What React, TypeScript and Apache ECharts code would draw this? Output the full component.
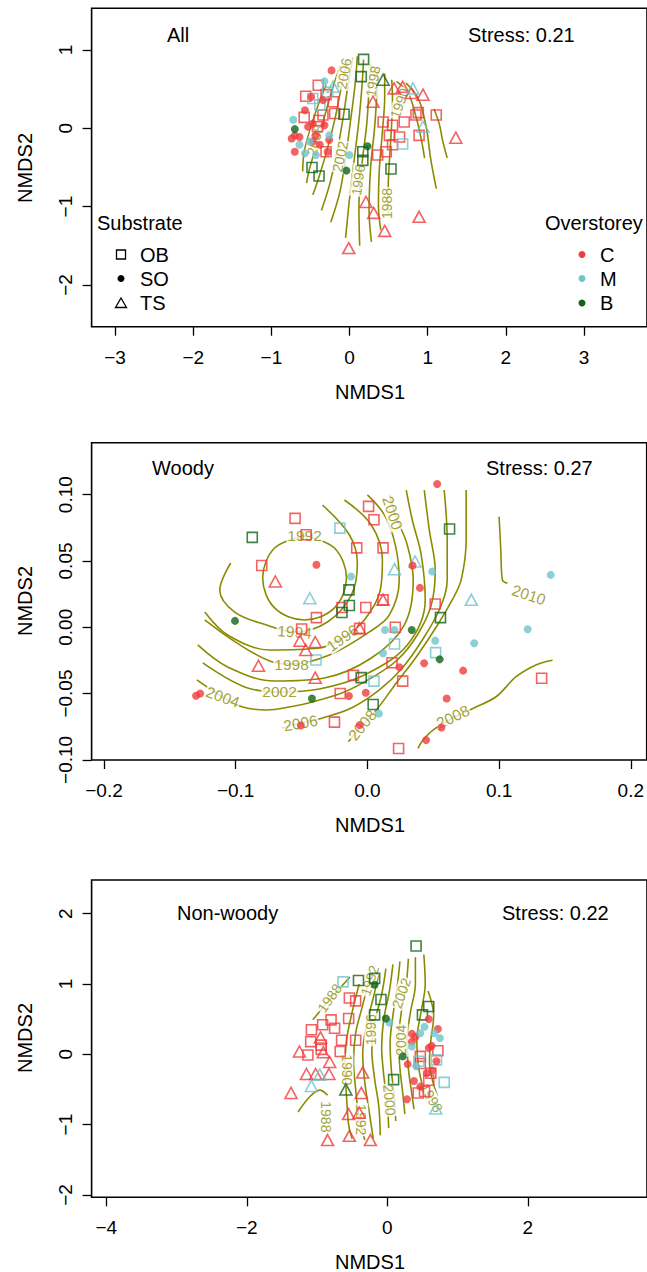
import React, { useEffect, useRef } from "react";
import * as echarts from "echarts";

const RED = "#F03C3C";
const CYAN = "#6FC3CA";
const GREEN = "#10641A";
const OLIVE = "#8B8B00";
const FONT = "'Liberation Sans', Arial, Helvetica, sans-serif";

// ---------------- Panel 1: All ----------------
const allXTicks = [-3, -2, -1, 0, 1, 2, 3];
const allYTicks = [-2, -1, 0, 1];
const allSquaresC = [[-0.56,0.41],[-0.40,0.55],[-0.30,0.43],[-0.21,0.34],[-0.58,0.14],[-0.19,0.19],[-0.34,0.17],[-0.39,0.10],[0.43,0.08],[0.55,0.04],[0.70,0.08],[0.85,0.17],[0.88,0.20],[1.11,0.17],[0.51,-0.09],[0.64,-0.11],[0.89,-0.09],[0.36,-0.34],[0.47,-0.30],[0.55,-0.21],[-0.30,-0.30],[-0.41,0.02]];
const allSquaresM = [[-0.38,0.30],[0.68,-0.20],[-0.28,0.46],[-0.47,0.38]];
const allSquaresB = [[0.18,0.88],[0.15,0.66],[-0.07,0.18],[-0.48,-0.50],[-0.39,-0.61],[0.17,-0.30],[0.17,-0.41],[0.53,-0.52]];
const allTrianglesC = [[-0.01,-1.53],[0.21,-0.94],[0.31,-1.08],[0.45,-1.31],[0.89,-1.13],[1.36,-0.12],[0.30,0.34],[0.57,0.51],[0.68,0.53],[0.79,0.45],[0.94,0.43]];
const allTrianglesM = [[-0.21,0.53],[0.81,0.51],[0.94,0.02]];
const allTrianglesB = [[0.43,0.62]];
const allDotsC = [[-0.23,0.74],[-0.57,0.23],[-0.70,-0.09],[-0.74,-0.13],[-0.70,-0.30],[-0.64,-0.11],[-0.53,0.02],[-0.47,0.06],[-0.43,-0.09],[-0.32,0.04],[-0.26,-0.15],[-0.28,-0.30],[-0.49,0.40],[-0.47,-0.17],[-0.34,0.36],[-0.38,-0.21]];
const allDotsM = [[-0.72,0.11],[-0.64,-0.21],[-0.57,-0.32],[-0.26,-0.09],[-0.43,-0.34],[0.0,-0.34],[-0.51,-0.17],[-0.32,0.60]];
const allDotsB = [[-0.70,-0.01],[0.23,-0.23],[-0.04,-0.54]];
const allContours = [
  [[-0.30,0.55],[-0.40,0.30],[-0.50,0.0],[-0.58,-0.30],[-0.60,-0.55]],
  [[-0.12,0.80],[-0.22,0.50],[-0.32,0.15],[-0.42,-0.20],[-0.52,-0.55],[-0.55,-0.70]],
  [[-0.02,0.88],[-0.10,0.55],[-0.18,0.15],[-0.28,-0.25],[-0.40,-0.65],[-0.47,-0.85]],
  [[0.04,0.90],[-0.02,0.55],[-0.08,0.15],[-0.15,-0.25],[-0.25,-0.70],[-0.36,-1.05]],
  [[0.10,0.92],[0.07,0.55],[0.02,0.15],[-0.04,-0.30],[-0.12,-0.80],[-0.24,-1.20]],
  [[0.18,0.88],[0.16,0.55],[0.12,0.10],[0.06,-0.40],[0.00,-0.90],[-0.05,-1.40]],
  [[0.27,0.82],[0.25,0.50],[0.22,0.05],[0.16,-0.45],[0.12,-1.00],[0.13,-1.50]],
  [[0.36,0.76],[0.35,0.45],[0.32,0.00],[0.27,-0.50],[0.25,-1.05],[0.28,-1.45]],
  [[0.45,0.70],[0.45,0.40],[0.42,-0.05],[0.38,-0.55],[0.37,-1.00],[0.40,-1.30]],
  [[0.54,0.62],[0.55,0.35],[0.53,-0.10],[0.50,-0.60],[0.49,-0.95],[0.50,-1.10]],
  [[0.60,0.60],[0.75,0.45],[0.85,0.15],[0.92,-0.15],[0.96,-0.38]],
  [[0.72,0.58],[0.88,0.38],[0.98,0.02],[1.04,-0.40],[1.11,-0.77]],
  [[1.08,0.25],[1.15,0.05],[1.19,-0.15],[1.25,-0.38]],
];
const allContourLabels = [
  { t: "2006", x: -0.07, y: 0.70, r: 80 },
  { t: "1998", x: 0.30, y: 0.60, r: 80 },
  { t: "1990", x: 0.64, y: 0.32, r: 70 },
  { t: "2008", x: -0.44, y: -0.15, r: 75 },
  { t: "2002", x: -0.12, y: -0.36, r: 78 },
  { t: "1996", x: 0.11, y: -0.66, r: 82 },
  { t: "1988", x: 0.48, y: -0.96, r: 90 },
];

// ---------------- Panel 2: Woody ----------------
const woodyXTicks = [-0.2, -0.1, 0, 0.1, 0.2];
const woodyYTicks = [-0.1, -0.05, 0, 0.05, 0.1];
const woodySquaresC = [[-0.0549,0.0821],[-0.0465,0.0698],[-0.0802,0.0466],[0.0009,0.0912],[0.005,0.0811],[-0.0081,0.0599],[0.0119,0.0599],[-0.0387,0.0073],[-0.0193,0.0149],[-0.0012,0.0149],[0.0119,0.0207],[0.0515,0.0176],[-0.0499,-0.0013],[-0.0059,-0.0008],[0.0212,0.0],[0.0187,-0.0267],[-0.0106,-0.0363],[0.0268,-0.0406],[-0.0206,-0.0499],[-0.025,-0.0715],[0.0237,-0.0914],[0.1323,-0.0385]];
const woodySquaresM = [[-0.0209,0.0748],[-0.039,-0.0247],[0.0206,-0.0126],[0.005,-0.0406],[0.0518,-0.0191]];
const woodySquaresB = [[-0.0874,0.0678],[0.0624,0.0741],[-0.014,0.0282],[-0.0137,0.0164],[-0.0193,0.0111],[0.0555,0.0073],[-0.0047,-0.038],[0.0044,-0.0582]];
const woodyTrianglesC = [[-0.0699,0.0345],[-0.0512,-0.0101],[-0.0396,-0.0111],[-0.0468,-0.0171],[-0.0827,-0.029],[-0.0396,-0.038],[0.0119,0.0207],[-0.0059,-0.0008]];
const woodyTrianglesM = [[-0.0437,0.0219],[0.0206,0.0438],[0.0362,0.0496],[0.0789,0.0207]];
const woodyDotsC = [[0.053,0.1081],[-0.0387,0.0471],[0.0399,0.0297],[0.0343,0.0466],[0.0431,-0.0272],[0.0243,-0.0302],[0.0727,-0.0327],[-0.0012,-0.0494],[-0.014,-0.0519],[0.0602,-0.0537],[-0.0059,-0.0738],[-0.0505,-0.0741],[0.0562,-0.0756],[0.0446,-0.0851],[-0.1301,-0.0516],[-0.127,-0.0499]];
const woodyDotsM = [[-0.0125,0.0383],[0.0493,0.042],[0.1392,0.0395],[0.0134,-0.002],[0.0206,-0.002],[0.0515,-0.0101],[0.0811,-0.0121],[0.0119,-0.0196],[0.1217,-0.0015],[0.0087,-0.065]];
const woodyDotsB = [[-0.1005,0.0048],[0.0337,-0.002],[0.0549,-0.0242],[-0.0421,-0.0537]];
const woodyContours = [
  [[-0.0477,0.0689],[-0.025,0.0598],[-0.0159,0.0372],[-0.025,0.0146],[-0.0477,0.0055],[-0.0705,0.0146],[-0.0795,0.0372],[-0.0705,0.0598],[-0.0477,0.0689]],
  [[-0.1038,0.0485],[-0.1121,0.0281],[-0.1008,0.0115],[-0.0765,0.0017],[-0.0553,-0.0035],[-0.0303,0.004],[-0.0121,0.0244],[-0.0076,0.0485],[-0.0136,0.0696],[-0.0341,0.0922]],
  [[-0.1235,0.0115],[-0.1061,-0.0058],[-0.0742,-0.0171],[-0.0364,-0.0156],[-0.0189,-0.0081],[-0.0023,0.0055],[0.0098,0.0281],[0.0114,0.0508],[0.003,0.0771],[-0.0174,0.096]],
  [[-0.1235,0.0055],[-0.0992,-0.0118],[-0.072,-0.0262],[-0.0576,-0.0277],[-0.0288,-0.0209],[0.0015,-0.0035],[0.0167,0.0093],[0.0242,0.0357],[0.0212,0.0621],[0.0129,0.0847],[0.0,0.0998]],
  [[-0.1288,-0.0133],[-0.1061,-0.0299],[-0.0705,-0.0405],[-0.0326,-0.0382],[0.003,-0.0232],[0.028,0.0017],[0.0348,0.0357],[0.0303,0.0621],[0.0212,0.0847],[0.0167,0.0998]],
  [[-0.125,-0.0269],[-0.0932,-0.045],[-0.0667,-0.0488],[-0.0364,-0.0465],[-0.0023,-0.036],[0.0303,-0.0133],[0.0439,0.0206],[0.0409,0.0545],[0.0341,0.0809],[0.0295,0.1035]],
  [[-0.1295,-0.0397],[-0.1098,-0.0526],[-0.0947,-0.0601],[-0.0765,-0.0624],[-0.0591,-0.0601],[-0.0417,-0.0563],[-0.0174,-0.0488],[0.003,-0.0382],[0.0227,-0.0247],[0.0379,-0.0058],[0.0485,0.0168],[0.0515,0.0432],[0.047,0.0734],[0.0432,0.1035]],
  [[-0.0644,-0.0759],[-0.0508,-0.0722],[-0.0341,-0.0684],[-0.0121,-0.0609],[0.0091,-0.0473],[0.0265,-0.0307],[0.0417,-0.0096],[0.0545,0.013],[0.0606,0.0357],[0.0606,0.0658],[0.0583,0.1035]],
  [[-0.0144,-0.0864],[-0.0038,-0.0737],[0.0068,-0.0624],[0.022,-0.042],[0.0371,-0.0224],[0.0523,0.0002],[0.0644,0.0206],[0.0712,0.0357],[0.075,0.0658],[0.075,0.1035]],
  [[0.0384,-0.0914],[0.0422,-0.0851],[0.0498,-0.0775],[0.0664,-0.0675],[0.0801,-0.0612],[0.0977,-0.0524],[0.1129,-0.0373],[0.1280,-0.0284],[0.1406,-0.0249]],
  [[0.1000,0.0834],[0.1013,0.0582],[0.1025,0.0357],[0.1063,0.0332]],
];
const woodyContourLabels = [
  { t: "1992", x: -0.0477, y: 0.0689, r: 0 },
  { t: "1994", x: -0.0553, y: -0.0035, r: -4 },
  { t: "1996", x: -0.0189, y: -0.0081, r: 35 },
  { t: "1998", x: -0.0576, y: -0.0277, r: 0 },
  { t: "2000", x: 0.0192, y: 0.0862, r: -72 },
  { t: "2002", x: -0.0667, y: -0.0488, r: 0 },
  { t: "2004", x: -0.1098, y: -0.0526, r: -20 },
  { t: "2006", x: -0.0508, y: -0.0722, r: 10 },
  { t: "2008", x: -0.0038, y: -0.0737, r: 50 },
  { t: "2008", x: 0.0649, y: -0.0675, r: 25 },
  { t: "2010", x: 0.1226, y: 0.0244, r: -18 },
];

// ---------------- Panel 3: Non-woody ----------------
const nwXTicks = [-4, -2, 0, 2];
const nwYTicks = [-2, -1, 0, 1, 2];
const nwSquaresC = [[-0.54,0.80],[-0.45,0.76],[-0.55,0.51],[-0.80,0.49],[-0.75,0.37],[-1.08,0.35],[-0.92,0.42],[-1.09,0.18],[-0.94,0.13],[-0.65,0.20],[-0.45,0.20],[-0.94,0.07],[-1.13,-0.01],[-0.67,0.04],[0.72,0.05],[0.47,-0.03],[0.47,-0.13],[0.62,-0.27],[0.59,-0.37],[0.44,-0.55],[0.53,-0.53]];
const nwSquaresM = [[-0.63,1.03],[0.81,-0.40],[0.70,-0.08],[0.45,-0.10]];
const nwSquaresB = [[0.41,1.54],[-0.41,1.05],[-0.18,1.08],[-0.09,0.78],[-0.18,0.56],[0.59,0.68],[0.50,0.56],[0.09,-0.36]];
const nwTrianglesC = [[-1.25,0.04],[-0.95,0.24],[-0.91,0.03],[-0.82,-0.11],[-1.15,-0.28],[-1.02,-0.28],[-0.83,-0.28],[-0.35,-0.26],[-1.37,-0.55],[-0.37,-0.55],[-0.55,-0.85],[-0.40,-0.83],[-0.85,-1.22],[-0.54,-1.16],[-0.24,-1.22]];
const nwTrianglesM = [[-1.08,-0.45],[-0.96,-0.29],[0.69,-0.77]];
const nwTrianglesB = [[-0.59,-0.50]];
const nwDotsC = [[0.59,0.50],[0.35,0.29],[0.40,0.25],[0.72,0.36],[0.63,0.12],[0.59,0.09],[0.35,0.18],[0.29,-0.14],[0.70,-0.10],[0.64,-0.23],[0.38,-0.38],[0.56,-0.27],[0.28,-0.64],[0.47,-0.46]];
const nwDotsM = [[0.53,0.39],[0.67,0.30],[0.75,0.23],[0.03,0.45],[0.35,0.11],[0.47,0.30],[0.41,-0.17]];
const nwDotsB = [[-0.18,0.99],[-0.02,0.51],[0.22,-0.03]];
const nwContours = [
  [[-1.06,0.49],[-0.80,0.80],[-0.53,1.10]],
  [[-1.27,-0.82],[-1.10,-0.60],[-0.96,-0.51],[-0.85,-0.58]],
  [[-0.40,1.00],[-0.50,0.60],[-0.58,0.20],[-0.60,-0.20],[-0.58,-0.60],[-0.55,-1.00],[-0.50,-1.20]],
  [[-0.25,1.10],[-0.35,0.70],[-0.45,0.30],[-0.48,-0.10],[-0.45,-0.50],[-0.40,-0.90],[-0.32,-1.22]],
  [[-0.12,1.15],[-0.20,0.80],[-0.30,0.40],[-0.35,0.00],[-0.32,-0.40],[-0.26,-0.80],[-0.20,-1.20]],
  [[-0.02,1.22],[-0.08,0.85],[-0.18,0.45],[-0.22,0.05],[-0.18,-0.35],[-0.12,-0.75],[-0.10,-1.15]],
  [[0.08,1.28],[0.03,0.90],[-0.05,0.50],[-0.08,0.10],[-0.05,-0.30],[0.00,-0.70],[0.02,-1.05]],
  [[0.18,1.32],[0.14,0.95],[0.08,0.55],[0.04,0.15],[0.06,-0.25],[0.10,-0.60],[0.12,-0.95]],
  [[0.30,1.36],[0.27,1.00],[0.20,0.60],[0.16,0.20],[0.18,-0.20],[0.22,-0.55],[0.25,-0.85]],
  [[0.40,1.38],[0.40,1.00],[0.33,0.60],[0.28,0.20],[0.30,-0.20],[0.34,-0.50],[0.38,-0.78]],
  [[0.52,1.42],[0.54,1.00],[0.48,0.60],[0.42,0.20],[0.44,-0.15],[0.50,-0.45],[0.55,-0.65]],
  [[0.58,0.90],[0.66,0.55],[0.62,0.20],[0.60,-0.10],[0.65,-0.40],[0.72,-0.60]],
];
const nwContourLabels = [
  { t: "1988", x: -0.82, y: 0.80, r: 55 },
  { t: "1992", x: -0.25, y: 1.05, r: 72 },
  { t: "1996", x: -0.23, y: 0.35, r: 90 },
  { t: "2002", x: 0.20, y: 0.87, r: 70 },
  { t: "2004", x: 0.20, y: 0.20, r: 90 },
  { t: "1990", x: -0.58, y: -0.22, r: -90 },
  { t: "1992", x: -0.37, y: -0.93, r: -90 },
  { t: "2000", x: 0.03, y: -0.65, r: -85 },
  { t: "1988", x: -0.87, y: -0.89, r: -90 },
  { t: "1998", x: 0.63, y: -0.62, r: -60 },
];

const panelDefs = [
  {
    grid: { left: 91.6, top: 8.3, width: 556.4, height: 318.4 },
    xRange: [-3.3, 3.806], yRange: [-2.534, 1.533],
    xTicks: allXTicks, yTicks: allYTicks, xDec: 0, yDec: 0,
    contours: allContours, labels: allContourLabels, labelSize: 14,
    groups: [
      [allSquaresC, "sq", RED], [allSquaresM, "sq", CYAN], [allSquaresB, "sq", GREEN],
      [allTrianglesC, "tr", RED], [allTrianglesM, "tr", CYAN], [allTrianglesB, "tr", GREEN],
      [allDotsC, "dot", RED], [allDotsM, "dot", CYAN], [allDotsB, "dot", GREEN],
    ],
  },
  {
    grid: { left: 91.6, top: 442.7, width: 556.4, height: 317.3 },
    xRange: [-0.2094, 0.2121], yRange: [-0.1001, 0.1392],
    xTicks: woodyXTicks, yTicks: woodyYTicks, xDec: 1, yDec: 2,
    contours: woodyContours, labels: woodyContourLabels, labelSize: 15.5,
    groups: [
      [woodySquaresC, "sq", RED], [woodySquaresM, "sq", CYAN], [woodySquaresB, "sq", GREEN],
      [woodyTrianglesC, "tr", RED], [woodyTrianglesM, "tr", CYAN],
      [woodyDotsC, "dot", RED], [woodyDotsM, "dot", CYAN], [woodyDotsB, "dot", GREEN],
    ],
  },
  {
    grid: { left: 91.6, top: 880, width: 556.4, height: 317.3 },
    xRange: [-4.208, 3.696], yRange: [-2.034, 2.479],
    xTicks: nwXTicks, yTicks: nwYTicks, xDec: 0, yDec: 0,
    contours: nwContours, labels: nwContourLabels, labelSize: 14,
    groups: [
      [nwSquaresC, "sq", RED], [nwSquaresM, "sq", CYAN], [nwSquaresB, "sq", GREEN],
      [nwTrianglesC, "tr", RED], [nwTrianglesM, "tr", CYAN], [nwTrianglesB, "tr", GREEN],
      [nwDotsC, "dot", RED], [nwDotsM, "dot", CYAN], [nwDotsB, "dot", GREEN],
    ],
  },
];

const fmt = (dec: number) => (v: number) => {
  const s = Math.abs(v).toFixed(dec);
  return v < -1e-9 ? "\u2212" + s : s;
};

function buildOption() {
  const grids: any[] = [];
  const xAxes: any[] = [];
  const yAxes: any[] = [];
  const series: any[] = [];
  panelDefs.forEach((p, i) => {
    grids.push({ ...p.grid, show: true, borderColor: "#000", borderWidth: 1.6, backgroundColor: "transparent" });
    const common = {
      gridIndex: i, type: "value",
      axisLine: { show: false, onZero: false }, splitLine: { show: false },
    };
    xAxes.push({
      ...common, position: "bottom", min: p.xRange[0], max: p.xRange[1],
      axisTick: { show: true, inside: false, length: 9, lineStyle: { color: "#000", width: 1.3 }, customValues: p.xTicks },
      axisLabel: { customValues: p.xTicks, formatter: fmt(p.xDec), color: "#000", fontSize: 19, fontFamily: FONT, margin: 21 },
    });
    yAxes.push({
      ...common, position: "left", min: p.yRange[0], max: p.yRange[1],
      axisTick: { show: true, inside: false, length: 9, lineStyle: { color: "#000", width: 1.3 }, customValues: p.yTicks },
      axisLabel: { customValues: p.yTicks, formatter: fmt(p.yDec), color: "#000", fontSize: 19, fontFamily: FONT, margin: 17, rotate: 90 },
    });
    p.contours.forEach((c) => {
      series.push({
        type: "line", xAxisIndex: i, yAxisIndex: i, data: c, smooth: 0.35,
        symbol: "none", silent: true, z: 1,
        lineStyle: { color: OLIVE, width: 1.6 },
      });
    });
    series.push({
      type: "scatter", xAxisIndex: i, yAxisIndex: i, silent: true, z: 2,
      symbolSize: 1, itemStyle: { color: "transparent" },
      data: p.labels.map((l) => ({ name: l.t, value: [l.x, l.y], label: { rotate: l.r } })),
      label: {
        show: true, position: "inside", formatter: "{b}", color: OLIVE,
        fontSize: p.labelSize, fontFamily: FONT, backgroundColor: "#fff", padding: [0, 1],
      },
    });
    (p.groups as any[]).forEach(([data, kind, color]) => {
      const s: any = { type: "scatter", xAxisIndex: i, yAxisIndex: i, data, silent: true, z: 3 };
      if (kind === "sq") {
        s.symbol = "rect"; s.symbolSize = 10;
        s.itemStyle = { color: "transparent", borderColor: color, borderWidth: 1.6 };
      } else if (kind === "tr") {
        s.symbol = "triangle"; s.symbolSize = [12, 11];
        s.itemStyle = { color: "transparent", borderColor: color, borderWidth: 1.6 };
      } else {
        s.symbol = "circle"; s.symbolSize = 8;
        s.itemStyle = { color };
      }
      series.push(s);
    });
  });

  const txt = (text: string, x: number, y: number, extra: any = {}) => ({
    type: "text", x, y, z: 10, ...extra,
    style: { text, fill: "#000", fontSize: 20, fontFamily: FONT, align: "left", verticalAlign: "middle", ...(extra.style || {}) },
  });

  const graphic: any[] = [
    txt("All", 167, 35),
    txt("Stress: 0.21", 468, 35),
    txt("Woody", 152, 468),
    txt("Stress: 0.27", 486, 468),
    txt("Non-woody", 177, 913),
    txt("Stress: 0.22", 502, 913),
    txt("NMDS1", 370, 392, { style: { align: "center" } }),
    txt("NMDS1", 370, 825, { style: { align: "center" } }),
    txt("NMDS1", 370, 1262, { style: { align: "center" } }),
    txt("NMDS2", 25, 168, { rotation: Math.PI / 2, style: { align: "center" } }),
    txt("NMDS2", 25, 601, { rotation: Math.PI / 2, style: { align: "center" } }),
    txt("NMDS2", 25, 1038, { rotation: Math.PI / 2, style: { align: "center" } }),
    txt("Substrate", 97, 223),
    { type: "rect", z: 10, shape: { x: 116.5, y: 250, width: 9, height: 9 }, style: { fill: "none", stroke: "#000", lineWidth: 1.3 } },
    { type: "circle", z: 10, shape: { cx: 121, cy: 278.5, r: 3.5 }, style: { fill: "#000" } },
    { type: "polygon", z: 10, shape: { points: [[121, 298], [126.5, 307.5], [115.5, 307.5]] }, style: { fill: "none", stroke: "#000", lineWidth: 1.3 } },
    txt("OB", 140, 255),
    txt("SO", 140, 279),
    txt("TS", 140, 303),
    txt("Overstorey", 545, 223),
    { type: "circle", z: 10, shape: { cx: 582, cy: 254.5, r: 3.5 }, style: { fill: RED } },
    { type: "circle", z: 10, shape: { cx: 582, cy: 278.5, r: 3.5 }, style: { fill: CYAN } },
    { type: "circle", z: 10, shape: { cx: 582, cy: 303, r: 3.5 }, style: { fill: GREEN } },
    txt("C", 600, 255),
    txt("M", 600, 279),
    txt("B", 600, 303),
  ];

  return {
    animation: false,
    backgroundColor: "#fff",
    grid: grids,
    xAxis: xAxes,
    yAxis: yAxes,
    series,
    graphic,
  };
}

export default function App() {
  const ref = useRef<HTMLDivElement>(null);
  useEffect(() => {
    if (!ref.current) return;
    const chart = echarts.init(ref.current, null, { renderer: "svg" });
    chart.setOption(buildOption() as any);
    return () => chart.dispose();
  }, []);
  return (
    <div
      ref={ref}
      style={{ position: "absolute", left: 0, top: 0, width: 647, height: 1272, background: "#fff" }}
    />
  );
}
